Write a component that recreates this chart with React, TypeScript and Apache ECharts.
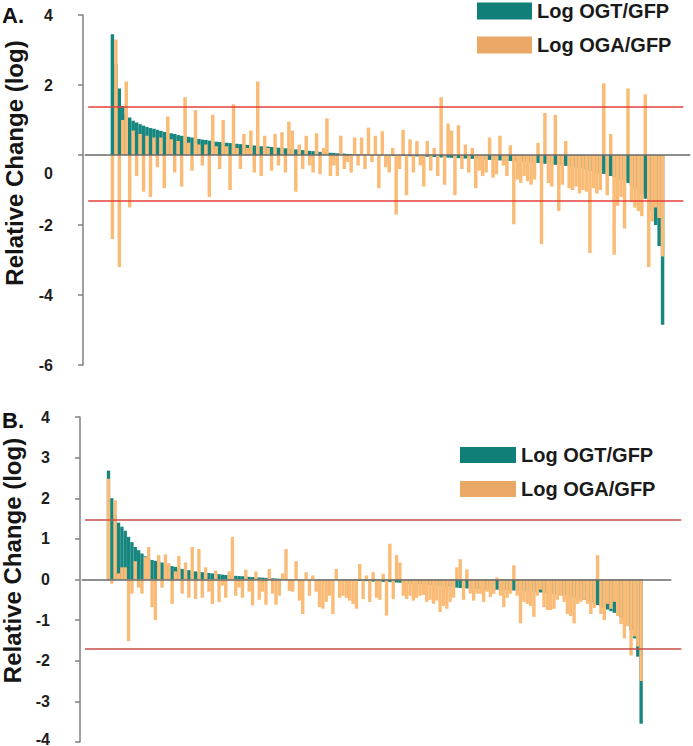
import React, { useEffect, useRef } from "react";
import * as echarts from "echarts";

const FONT = '"Liberation Sans", Arial, Helvetica, sans-serif';
const SERIES_OGT = "Log OGT/GFP";
const SERIES_OGA = "Log OGA/GFP";
const AXIS_TITLE = "Relative Change (log)";

// Panel A: sorted Log OGT/GFP and matching Log OGA/GFP
const ogtA = [
  3.45, 2.6, 1.9, 1.4, 1.18, 1.07, 0.98, 0.93, 0.88, 0.84,
  0.8, 0.77, 0.75, 0.72, 0.69, 0.66, 0.64, 0.62, 0.6, 0.57,
  0.55, 0.53, 0.52, 0.5, 0.48, 0.46, 0.44, 0.43, 0.41, 0.4,
  0.38, 0.37, 0.36, 0.35, 0.34, 0.33, 0.32, 0.31, 0.3, 0.29,
  0.28, 0.27, 0.26, 0.25, 0.245, 0.24, 0.23, 0.22, 0.21, 0.2,
  0.19, 0.18, 0.17, 0.16, 0.15, 0.14, 0.13, 0.12, 0.11, 0.1,
  0.09, 0.08, 0.07, 0.065, 0.06, 0.05, 0.045, 0.04, 0.03, 0.025,
  0.02, 0.015, 0.01, 0.01, 0.005, 0, 0, -0.005, -0.01, -0.01,
  -0.015, -0.02, -0.02, -0.025, -0.03, -0.03, -0.035, -0.04, -0.04, -0.045,
  -0.05, -0.05, -0.055, -0.06, -0.065, -0.07, -0.07, -0.075, -0.08, -0.085,
  -0.09, -0.095, -0.1, -0.105, -0.11, -0.115, -0.12, -0.125, -0.13, -0.14,
  -0.145, -0.15, -0.155, -0.16, -0.165, -0.17, -0.18, -0.185, -0.19, -0.2,
  -0.21, -0.215, -0.22, -0.23, -0.24, -0.25, -0.26, -0.27, -0.28, -0.29,
  -0.3, -0.31, -0.32, -0.33, -0.35, -0.37, -0.39, -0.41, -0.44, -0.47,
  -0.5, -0.52, -0.54, -0.57, -0.6, -0.63, -0.66, -0.7, -0.74, -0.8,
  -0.86, -0.93, -1.02, -1.12, -1.25, -1.4, -1.6, -2.0, -2.6, -4.85,
];
const ogaA = [
  -2.4, 3.3, -3.2, 1.0, 2.1, -1.5, 0.7, -0.6, 0.6, -1.05,
  0.55, -1.2, 0.5, -0.35, 0.5, -0.95, 1.1, 0.45, -0.5, 0.4,
  -0.9, 1.65, 0.35, -0.45, 1.28, 0.3, -0.3, 0.3, -1.2, 1.15,
  0.25, -0.4, 1.0, 0.25, -1.0, 1.45, 0.2, -0.4, 0.6, 0.2,
  0.7, -0.5, 2.1, -0.6, 0.55, 0.2, -0.45, 0.6, -0.3, 0.65,
  -0.5, 0.95, 0.7, -1.05, 0.3, -0.4, 0.55, -0.3, -0.5, 0.62,
  -0.55, 0.2, 1.05, -0.6, -0.3, -0.6, 0.55, -0.4, -0.2, -0.5,
  0.5, -0.3, 0.5, -0.4, 0.78, -0.2, 0.55, -0.95, 0.68, -0.35,
  -0.5, 0.2, -1.7, -0.4, 0.72, -1.15, 0.45, -0.5, 0.4, -0.3,
  -0.9, 0.4, -0.45, 0.2, -0.6, 1.65, -0.85, 0.9, 0.7, -1.15,
  0.85, -0.4, 0.3, -0.5, 0.2, -0.95, -0.45, -0.6, -0.5, 0.5,
  -0.65, -0.55, 0.55, -0.3, -0.6, 0.28, -1.98, -0.7, -0.8, -0.6,
  -0.75, -0.85, -0.7, 0.35, -2.55, 1.2, -0.8, -0.9, 1.15, -1.6,
  -0.85, 0.4, -0.95, -1.0, -0.9, -1.1, -1.0, -1.05, -2.8, -0.95,
  -1.1, -1.0, 2.05, -1.15, 0.6, -2.85, -1.45, -1.2, -2.1, 1.9,
  -1.35, -1.5, -1.6, -1.75, 1.73, -3.2, -1.9, -1.5, -1.8, -2.9,
];

// Panel B
const ogtB = [
  2.68, 2.0, 1.6, 1.4, 1.3, 1.2, 1.05, 0.92, 0.8, 0.72,
  0.64, 0.57, 0.51, 0.48, 0.46, 0.44, 0.42, 0.38, 0.35, 0.33,
  0.31, 0.28, 0.26, 0.24, 0.23, 0.22, 0.2, 0.19, 0.18, 0.17,
  0.16, 0.15, 0.14, 0.13, 0.12, 0.11, 0.1, 0.095, 0.09, 0.085,
  0.08, 0.07, 0.065, 0.06, 0.055, 0.05, 0.045, 0.04, 0.035, 0.03,
  0.025, 0.02, 0.02, 0.015, 0.01, 0.01, 0.005, 0.005, 0, 0,
  0, 0, 0, -0.005, -0.005, -0.01, -0.01, -0.01, -0.015, -0.015,
  -0.02, -0.02, -0.025, -0.03, -0.03, -0.035, -0.04, -0.04, -0.045, -0.05,
  -0.05, -0.055, -0.06, -0.06, -0.065, -0.07, -0.075, -0.08, -0.085, -0.09,
  -0.1, -0.105, -0.11, -0.115, -0.12, -0.13, -0.135, -0.14, -0.15, -0.16,
  -0.17, -0.18, -0.19, -0.2, -0.2, -0.21, -0.21, -0.22, -0.22, -0.23,
  -0.23, -0.235, -0.24, -0.24, -0.245, -0.25, -0.25, -0.255, -0.26, -0.26,
  -0.27, -0.27, -0.28, -0.28, -0.29, -0.29, -0.3, -0.3, -0.31, -0.32,
  -0.33, -0.34, -0.35, -0.36, -0.37, -0.38, -0.39, -0.4, -0.42, -0.44,
  -0.46, -0.48, -0.5, -0.53, -0.56, -0.6, -0.63, -0.66, -0.7, -0.74,
  -0.78, -0.82, -0.87, -0.93, -1.0, -1.1, -1.25, -1.45, -1.9, -3.55,
];
const ogaB = [
  2.48, -0.1, 1.95, 0.15, 0.3, 0.3, -1.52, -0.35, 0.45, -0.2,
  -0.35, 0.55, 0.8, -0.68, -1.0, 0.6, -0.2, 0.62, 0.4, -0.6,
  0.2, 0.58, -0.35, 0.42, -0.45, 0.8, -0.48, 0.75, -0.45, 0.3,
  -0.3, -0.6, 0.22, -0.55, -0.15, -0.45, 0.2, 1.05, -0.4, -0.2,
  -0.45, 0.24, -0.3, -0.64, 0.2, -0.5, -0.3, -0.62, 0.26, -0.35,
  -0.62, -0.4, 0.15, 0.75, -0.28, -0.3, 0.45, -0.52, -0.85, 0.18,
  -0.4, 0.1, -0.3, -0.68, -0.72, -0.55, -0.4, -0.85, 0.26, -0.45,
  -0.4, -0.45, -0.52, -0.6, -0.72, 0.38, -0.48, 0.1, -0.55, 0.18,
  -0.45, -0.5, 0.14, -0.89, 0.88, -0.48, 0.6, 0.42, -0.4, -0.48,
  -0.4, -0.52, -0.45, -0.4, -0.38, -0.55, -0.5, -0.6, -0.52, -0.8,
  -0.65, -0.72, -0.55, -0.45, 0.3, 0.5, -0.5, 0.25, -0.35, -0.52,
  -0.35, -0.35, -0.55, -0.3, -0.43, -0.35, 0.05, -0.4, -0.68, -0.45,
  -0.35, 0.35, -0.4, -1.08, -0.55, -0.6, -0.65, -0.92, -0.4, -0.25,
  -0.68, -0.75, -0.75, -0.72, -0.5, -0.4, -0.55, -0.85, -0.9, -1.08,
  -0.6, -0.55, -0.5, -0.6, -0.85, -0.7, 0.6, -0.85, -1.0, -0.6,
  -0.72, -0.55, -0.9, -1.1, -1.45, -1.15, -1.87, -1.4, -1.65, -2.5,
];

// Threshold lines (upper, lower) and axis ticks
const thresholdsA = [1.37, -1.31];
const thresholdsB = [1.48, -1.7];
const yTicksA = { min: -6, max: 4, interval: 2 };
const yTicksB = { min: -4, max: 4, interval: 1 };

const TEAL = "#16867f";
const ORANGE = "#f9bb76";
const LEG_TEAL = "#0f7f78";
const LEG_ORANGE = "#e9a866";
const RED_A = "#e43f3a";
const RED_B = "#c54e49";
const ZERO = "#6a6a6a";
const LABEL_COLOR = "#1e1e1e";

function padded(values: number[], lead: number, trail: number) {
  const out: (number | string)[] = [];
  for (let i = 0; i < lead; i++) out.push("-");
  values.forEach((v) => out.push(v));
  for (let i = 0; i < trail; i++) out.push("-");
  return out;
}
function cats(n: number) {
  const c: string[] = [];
  for (let i = 0; i < n; i++) c.push("p" + i);
  return c;
}

const labelToken = { fontSize: 16, fontWeight: "bold", color: LABEL_COLOR, fontFamily: FONT };

function yAxis(
  gridIndex: number,
  t: { min: number; max: number; interval: number },
  nameGap: number,
  shift: number,
  zeroLow: boolean,
  minHigh: boolean
) {
  return {
    type: "value",
    gridIndex,
    min: t.min,
    max: t.max,
    interval: t.interval,
    splitLine: { show: false },
    axisLine: { show: true, onZero: false, lineStyle: { color: "#808080", width: 1.5 } },
    axisTick: { show: true, length: 5, lineStyle: { color: "#808080", width: 1.5 } },
    axisLabel: {
      ...labelToken,
      margin: 30,
      formatter: (v: number) => {
        if (zeroLow && v === 0) return "{z|0}";
        if (minHigh && v === t.min) return "{u|" + v + "}";
        return String(v);
      },
      rich: {
        z: { ...labelToken, padding: [36, 0, 0, 0] },
        u: { ...labelToken, padding: [0, 0, 6, 0] },
      },
    },
    name: AXIS_TITLE,
    nameLocation: "middle",
    nameGap,
    nameRotate: 90,
    nameTextStyle: {
      fontSize: 24,
      lineHeight: 24,
      fontWeight: "bold",
      color: "#151515",
      fontFamily: FONT,
      padding: [0, 0, 0, shift],
    },
  };
}

function refLines(th: number[], red: string, zeroEnd: number, redEnd: number) {
  return {
    silent: true,
    symbol: ["none", "none"],
    label: { show: false },
    lineStyle: { type: "solid" },
    data: [
      [{ coord: [0, 0], lineStyle: { color: ZERO, width: 1.6, type: "solid" } }, { coord: [zeroEnd, 0] }],
      [{ coord: [1, th[0]], lineStyle: { color: red, width: 1.5, type: "solid" } }, { coord: [redEnd, th[0]] }],
      [{ coord: [1, th[1]], lineStyle: { color: red, width: 1.5, type: "solid" } }, { coord: [redEnd, th[1]] }],
    ],
  };
}

function legend(left: number, top: number, w: number, h: number, gap: number) {
  return {
    left,
    top,
    orient: "vertical",
    padding: 0,
    itemWidth: w,
    itemHeight: h,
    itemGap: gap,
    icon: "rect",
    selectedMode: false,
    textStyle: { fontSize: 20, fontWeight: "bold", color: "#1a1a1a", fontFamily: FONT, lineHeight: h },
    data: [
      { name: SERIES_OGT, itemStyle: { color: LEG_TEAL } },
      { name: SERIES_OGA, itemStyle: { color: LEG_ORANGE } },
    ],
  };
}

export default function App() {
  const ref = useRef<HTMLDivElement>(null);
  useEffect(() => {
    if (!ref.current) return;
    const chart = echarts.init(ref.current, undefined, { renderer: "svg" });
    const leadA = 8, trailA = 8, leadB = 8, trailB = 12;
    const nA = leadA + ogtA.length + trailA;
    const nB = leadB + ogtB.length + trailB;
    const barCommon = { barGap: "-100%", barCategoryGap: "0%", silent: true };
    chart.setOption({
      animation: false,
      backgroundColor: "#ffffff",
      title: [
        { text: "A.", left: 2, top: 4, padding: 0, textStyle: { fontSize: 22, fontWeight: "bold", color: "#111", fontFamily: FONT } },
        { text: "B.", left: 2, top: 409, padding: 0, textStyle: { fontSize: 22, fontWeight: "bold", color: "#111", fontFamily: FONT } },
      ],
      legend: [legend(477, 1, 55, 17, 14), legend(460, 445, 56, 16, 14)],
      grid: [
        { left: 83, top: 15, width: 609, height: 350, containLabel: false, outerBoundsMode: "none" },
        { left: 80, top: 417, width: 603, height: 325, containLabel: false, outerBoundsMode: "none" },
      ],
      xAxis: [
        { type: "category", gridIndex: 0, data: cats(nA), show: false },
        { type: "category", gridIndex: 1, data: cats(nB), show: false },
      ],
      yAxis: [yAxis(0, yTicksA, 57, 54, true, false), yAxis(1, yTicksB, 54, 38, false, true)],
      series: [
        { type: "bar", name: SERIES_OGT, xAxisIndex: 0, yAxisIndex: 0, data: padded(ogtA, leadA, trailA), itemStyle: { color: TEAL }, ...barCommon },
        {
          type: "bar", name: SERIES_OGA, xAxisIndex: 0, yAxisIndex: 0, data: padded(ogaA, leadA, trailA), itemStyle: { color: ORANGE }, ...barCommon,
          markLine: refLines(thresholdsA, RED_A, nA - 1, nA - 3),
        },
        { type: "bar", name: SERIES_OGT, xAxisIndex: 1, yAxisIndex: 1, data: padded(ogtB, leadB, trailB), itemStyle: { color: TEAL }, ...barCommon },
        {
          type: "bar", name: SERIES_OGA, xAxisIndex: 1, yAxisIndex: 1, data: padded(ogaB, leadB, trailB), itemStyle: { color: ORANGE }, ...barCommon,
          markLine: refLines(thresholdsB, RED_B, nB - 4, nB - 1),
        },
      ],
    });
    return () => chart.dispose();
  }, []);
  return <div ref={ref} style={{ position: "fixed", left: 0, top: 0, width: 693, height: 746, background: "#fff" }} />;
}
